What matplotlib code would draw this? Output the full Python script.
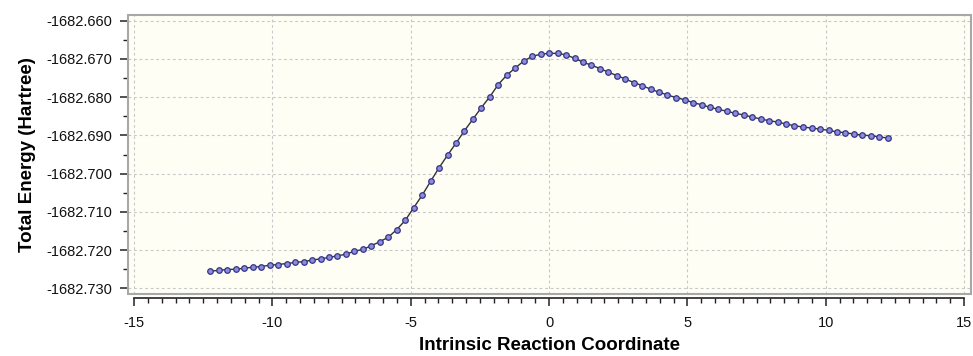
import matplotlib
matplotlib.use("Agg")
import matplotlib.pyplot as plt
from matplotlib.ticker import MultipleLocator, FormatStrFormatter
from matplotlib.patches import Rectangle

plt.rcParams['font.family'] = ['Liberation Sans', 'DejaVu Sans']
plt.rcParams['axes.unicode_minus'] = False

# IRC 좌표 (step ~0.306)
irc = [-12.24, -11.93, -11.63, -11.32, -11.02, -10.71, -10.40, -10.10, -9.79, -9.49,
       -9.18, -8.87, -8.57, -8.26, -7.96, -7.65, -7.34, -7.04, -6.73, -6.43,
       -6.12, -5.81, -5.51, -5.20, -4.90, -4.59, -4.28, -3.98, -3.67, -3.37,
       -3.06, -2.75, -2.45, -2.14, -1.84, -1.53, -1.22, -0.92, -0.61, -0.31,
       0.00, 0.31, 0.61, 0.92, 1.22, 1.53, 1.84, 2.14, 2.45, 2.75,
       3.06, 3.37, 3.67, 3.98, 4.28, 4.59, 4.90, 5.20, 5.51, 5.81,
       6.12, 6.43, 6.73, 7.04, 7.34, 7.65, 7.96, 8.26, 8.57, 8.87,
       9.18, 9.49, 9.79, 10.10, 10.40, 10.71, 11.02, 11.32, 11.63, 11.93,
       12.24]

# 총 에너지 (Hartree)
energy = [-1682.72554, -1682.72528, -1682.72509, -1682.72501, -1682.72475, -1682.72449, -1682.72430, -1682.72396, -1682.72378, -1682.72352,
          -1682.72325, -1682.72299, -1682.72265, -1682.72228, -1682.72194, -1682.72150, -1682.72108, -1682.72029, -1682.71984, -1682.71887,
          -1682.71782, -1682.71661, -1682.71467, -1682.71223, -1682.70900, -1682.70567, -1682.70199, -1682.69850, -1682.69517, -1682.69210,
          -1682.68879, -1682.68572, -1682.68276, -1682.67987, -1682.67672, -1682.67425, -1682.67234, -1682.67058, -1682.66932, -1682.66879,
          -1682.66853, -1682.66855, -1682.66892, -1682.66984, -1682.67084, -1682.67163, -1682.67252, -1682.67346, -1682.67436, -1682.67522,
          -1682.67619, -1682.67698, -1682.67793, -1682.67871, -1682.67942, -1682.68013, -1682.68066, -1682.68144, -1682.68197, -1682.68265,
          -1682.68318, -1682.68370, -1682.68423, -1682.68467, -1682.68520, -1682.68572, -1682.68617, -1682.68651, -1682.68703, -1682.68748,
          -1682.68782, -1682.68808, -1682.68835, -1682.68869, -1682.68906, -1682.68932, -1682.68966, -1682.68992, -1682.69010, -1682.69037,
          -1682.69071]

fig = plt.figure(figsize=(9.73, 3.56), dpi=100)
ax = fig.add_axes([128/973, 1 - 294/356, (971 - 128)/973, (294 - 15)/356])
ax.set_facecolor('#fefef4')

ax.plot(irc, energy, color='#333333', lw=1.0, marker='o', markersize=4.0,
        markerfacecolor='#8c8cd8', markeredgecolor='#34348a', markeredgewidth=0.9, zorder=3)

ax.set_xlim(-15.22, 15.25)
ax.set_ylim(-1682.73149, -1682.65851)

ax.xaxis.set_major_locator(MultipleLocator(5))
ax.xaxis.set_minor_locator(MultipleLocator(0.5))
ax.yaxis.set_major_locator(MultipleLocator(0.01))
ax.yaxis.set_minor_locator(MultipleLocator(0.005))
ax.yaxis.set_major_formatter(FormatStrFormatter('%.3f'))
ax.xaxis.set_major_formatter(FormatStrFormatter('%d'))

ax.grid(True, which='major', color='#c8c8c8', linestyle=(0, (2.5, 2.5)), lw=0.8)

# 회색 테두리 박스
for s in ['top', 'right']:
    ax.spines[s].set_visible(False)
ax.add_patch(Rectangle((0, 0), 1, 1, transform=ax.transAxes, fill=False,
                       edgecolor='#a8a8a8', lw=1.5, zorder=4, clip_on=False))

ax.spines['left'].set_bounds(-1682.730, -1682.660)
ax.spines['left'].set_color('#222222')
ax.spines['left'].set_linewidth(1.2)
ax.spines['bottom'].set_position(('outward', 3))
ax.spines['bottom'].set_bounds(-15, 15)
ax.spines['bottom'].set_color('#222222')
ax.spines['bottom'].set_linewidth(1.2)

ax.tick_params(axis='both', which='major', direction='out', length=6, width=1.1,
               color='#222222', labelsize=10.5, labelcolor='#111111')
ax.tick_params(axis='both', which='minor', direction='out', length=3.5, width=1.0, color='#222222')
ax.tick_params(axis='x', which='major', pad=7)
ax.tick_params(axis='y', which='major', pad=5)

ax.set_xlabel('Intrinsic Reaction Coordinate', fontsize=13.5, fontweight='bold', labelpad=5)
ax.set_ylabel('Total Energy (Hartree)', fontsize=13.5, fontweight='bold', labelpad=8)

fig.savefig('out.png', dpi=100)
